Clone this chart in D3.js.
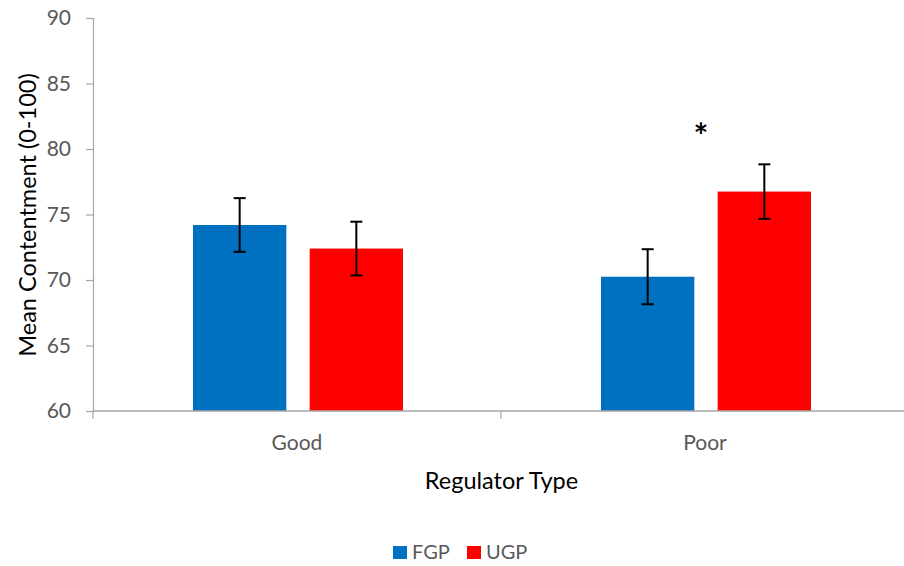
<!DOCTYPE html>
<html>
<head>
<meta charset="utf-8">
<script src="https://cdn.jsdelivr.net/npm/d3@7"></script>
<style>
  html, body { margin: 0; padding: 0; background: #fff; }
  svg { display: block; font-family: Lato, "Open Sans", sans-serif; }
</style>
</head>
<body>
<svg id="chart" width="904" height="566"></svg>
<script>
const categories = ["Good", "Poor"];
const seriesNames = ["FGP", "UGP"];
const seriesColors = ["#0070C0", "#FF0000"];
const fgpValues = [74.2, 70.25];
const ugpValues = [72.4, 76.75];
const fgpErrors = [2.05, 2.1];
const ugpErrors = [2.05, 2.08];
const yTicks = [60, 65, 70, 75, 80, 85, 90];
const significance = [{ category: "Poor", label: "*" }];

const svg = d3.select("#chart");
const plotLeft = 93, plotRight = 909, plotTop = 18, plotBottom = 411;

const y = d3.scaleLinear().domain([60, 90]).range([plotBottom, plotTop]);
const x0 = d3.scaleBand().domain(categories).range([plotLeft, plotRight]).paddingInner(0).paddingOuter(0);
const x1 = d3.scaleBand().domain(seriesNames).range([100, 310]).paddingInner(0.2).paddingOuter(0);

const data = categories.map((c, i) => ({
  category: c,
  values: [
    { series: "FGP", value: fgpValues[i], err: fgpErrors[i], color: seriesColors[0] },
    { series: "UGP", value: ugpValues[i], err: ugpErrors[i], color: seriesColors[1] }
  ]
}));

// Y axis
const yAxis = d3.axisLeft(y).tickValues(yTicks).tickSize(7).tickPadding(15);
const gy = svg.append("g").attr("transform", `translate(${plotLeft},0)`).call(yAxis);
gy.select(".domain").attr("stroke", "#a6a6a6").attr("stroke-width", 1.2);
gy.selectAll(".tick line").attr("stroke", "#a6a6a6").attr("stroke-width", 1.2);
gy.selectAll(".tick text").attr("fill", "#595959").style("font-size", "21px").style("font-family", "Lato, sans-serif");

// Bars
const groups = svg.append("g").selectAll("g").data(data).join("g")
  .attr("transform", d => `translate(${x0(d.category)},0)`);

groups.selectAll("rect").data(d => d.values).join("rect")
  .attr("x", d => x1(d.series))
  .attr("width", x1.bandwidth())
  .attr("y", d => y(d.value))
  .attr("height", d => y(60) - y(d.value))
  .attr("fill", d => d.color);

// Error bars
const eb = groups.selectAll("g.err").data(d => d.values).join("g").attr("class", "err");
const cx = d => x1(d.series) + x1.bandwidth() / 2;
eb.append("line")
  .attr("x1", cx).attr("x2", cx)
  .attr("y1", d => y(d.value + d.err)).attr("y2", d => y(d.value - d.err))
  .attr("stroke", "#000").attr("stroke-width", 2);
eb.append("line")
  .attr("x1", d => cx(d) - 6).attr("x2", d => cx(d) + 6)
  .attr("y1", d => y(d.value + d.err)).attr("y2", d => y(d.value + d.err))
  .attr("stroke", "#000").attr("stroke-width", 2);
eb.append("line")
  .attr("x1", d => cx(d) - 6).attr("x2", d => cx(d) + 6)
  .attr("y1", d => y(d.value - d.err)).attr("y2", d => y(d.value - d.err))
  .attr("stroke", "#000").attr("stroke-width", 2);

// X axis
const xAxisLine = svg.append("g");
xAxisLine.append("line")
  .attr("x1", plotLeft).attr("x2", plotRight).attr("y1", plotBottom).attr("y2", plotBottom)
  .attr("stroke", "#a6a6a6").attr("stroke-width", 1.6);
const boundaries = [plotLeft, ...categories.map(c => x0(c) + x0.bandwidth())];
xAxisLine.selectAll("line.tk").data(boundaries).join("line").attr("class", "tk")
  .attr("x1", d => d).attr("x2", d => d)
  .attr("y1", plotBottom).attr("y2", plotBottom + 8)
  .attr("stroke", "#a6a6a6").attr("stroke-width", 1.2);
xAxisLine.selectAll("text").data(categories).join("text")
  .attr("x", d => x0(d) + x0.bandwidth() / 2)
  .attr("y", 450)
  .attr("text-anchor", "middle")
  .attr("fill", "#595959")
  .style("font-size", "21px")
  .text(d => d);

// Significance
svg.selectAll("text.sig").data(significance).join("text").attr("class", "sig")
  .attr("x", d => x0(d.category) + x0.bandwidth() / 2 - 4)
  .attr("y", 148)
  .attr("text-anchor", "middle")
  .attr("fill", "#000")
  .style("font-size", "35px")
  .style("font-weight", "bold")
  .text(d => d.label);

// Axis titles
svg.append("text")
  .attr("x", 501.5).attr("y", 489)
  .attr("text-anchor", "middle")
  .attr("fill", "#000")
  .style("font-size", "23.5px")
  .text("Regulator Type");

svg.append("text")
  .attr("transform", "translate(36,215) rotate(-90)")
  .attr("text-anchor", "middle")
  .attr("fill", "#000")
  .style("font-size", "23.5px")
  .text("Mean Contentment (0-100)");

// Legend
const legendX = [393, 467];
const lg = svg.append("g").selectAll("g").data(seriesNames).join("g")
  .attr("transform", (d, i) => `translate(${legendX[i]},546)`);
lg.append("rect").attr("width", 14).attr("height", 13).attr("fill", (d, i) => seriesColors[i]);
lg.append("text").attr("x", 19).attr("y", 13)
  .attr("fill", "#595959").style("font-size", "20px").text(d => d);
</script>
</body>
</html>
